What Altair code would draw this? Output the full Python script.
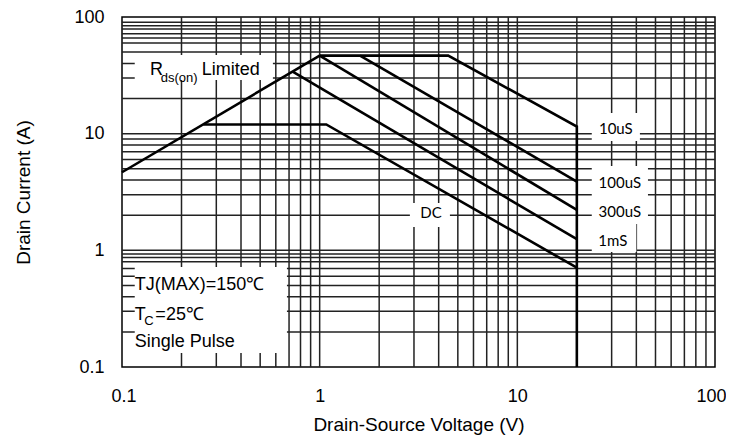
import altair as alt
import pandas as pd

# ---------------- data ----------------
x_ticks = [0.1, 1, 10, 100]
y_ticks = [0.1, 1, 10, 100]
x_grid = [0.2, 0.3, 0.4, 0.5, 0.6, 0.7, 0.8, 0.9, 1,
          2, 3, 4, 5, 6, 7, 8, 9, 10,
          20, 30, 40, 50, 60, 70, 80, 90]
y_grid = [0.2, 0.3, 0.4, 0.5, 0.6, 0.7, 0.8, 0.87, 0.93, 1,
          2, 3, 4, 5, 6, 7, 8, 9, 10,
          20, 30, 40, 50, 60, 66, 72, 79, 84, 90]

# SOA curves (V, A)
rds_v = [0.1, 1.0]
rds_i = [4.67, 46.7]
t10_v = [1.0, 4.47, 20, 20]
t10_i = [46.7, 46.7, 11.5, 0.1]
t100_v = [1.6, 20]
t100_i = [46.7, 3.88]
t300_v = [1.0, 20]
t300_i = [46.7, 2.22]
t1m_v = [0.73, 20]
t1m_i = [34.0, 1.245]
dc_v = [0.258, 1.08, 20]
dc_i = [12.0, 12.0, 0.71]

series = {"Rds": (rds_v, rds_i), "10uS": (t10_v, t10_i), "100uS": (t100_v, t100_i),
          "300uS": (t300_v, t300_i), "1mS": (t1m_v, t1m_i), "DC": (dc_v, dc_i)}

rows = []
for name, (vs, cs) in series.items():
    for k, (v, c) in enumerate(zip(vs, cs)):
        rows.append({"v": v, "i": c, "s": name, "k": k})
curves = pd.DataFrame(rows)

# annotation label boxes (data coords)
boxes = pd.DataFrame({
    "x1": [0.116, 0.116, 23.8, 23.8, 23.8, 2.86],
    "x2": [0.58, 0.683, 41.7, 45.8, 40.0, 4.56],
    "y1": [47.2, 0.721, 15.0, 5.29, 1.684, 2.55],
    "y2": [28.8, 0.132, 8.66, 1.684, 0.97, 1.587],
})

big_text = pd.DataFrame({
    "x": [0.1386, 0.253, 0.116, 0.116, 0.1475, 0.116],
    "y": [31.8, 31.8, 0.458, 0.2535, 0.2535, 0.1496],
    "t": ["R", "Limited", "TJ(MAX)=150\u2103", "T", "=25\u2103", "Single Pulse"],
})
sub_text = pd.DataFrame({
    "x": [0.157, 0.1297],
    "y": [27.9, 0.2297],
    "t": ["ds(on)", "C"],
})
dur_text = pd.DataFrame({
    "x": [31.5, 33.0, 33.0, 30.4, 3.66],
    "y": [9.94, 3.43, 1.93, 1.09, 1.895],
    "t": ["10uS", "100uS", "300uS", "1mS", "DC"],
})

xg = pd.DataFrame({"v": x_grid})
yg = pd.DataFrame({"i": y_grid})

# ---------------- chart ----------------
FONT = "Liberation Sans"
xscale = alt.Scale(type="log", domain=[0.1, 100], nice=False)
yscale = alt.Scale(type="log", domain=[0.1, 100], nice=False)
xaxis = alt.Axis(values=x_ticks, format="~g", title="Drain-Source Voltage (V)",
                 grid=False, ticks=False, tickSize=0, domain=False,
                 labelPadding=20, titlePadding=10, labelFlush=True, labelFlushOffset=11)
yaxis = alt.Axis(values=y_ticks, format="~g", title="Drain Current (A)",
                 grid=False, ticks=False, tickSize=0, domain=False,
                 labelPadding=18, titlePadding=40, labelFlush=False)

GRID = "#222222"

vgrid = alt.Chart(xg).mark_rule(color=GRID, strokeWidth=1.5).encode(
    x=alt.X("v:Q", scale=xscale, axis=xaxis))
hgrid = alt.Chart(yg).mark_rule(color=GRID, strokeWidth=1.5).encode(
    y=alt.Y("i:Q", scale=yscale, axis=yaxis))

rects = alt.Chart(boxes).mark_rect(color="white").encode(
    x=alt.X("x1:Q", scale=xscale, axis=xaxis), x2="x2:Q",
    y=alt.Y("y1:Q", scale=yscale, axis=yaxis), y2="y2:Q")

lines = alt.Chart(curves).mark_line(color="black", strokeWidth=2.6, strokeJoin="miter").encode(
    x=alt.X("v:Q", scale=xscale, axis=xaxis),
    y=alt.Y("i:Q", scale=yscale, axis=yaxis),
    detail="s:N", order="k:Q")

t_big = alt.Chart(big_text).mark_text(font=FONT, fontSize=18, align="left",
                                      baseline="alphabetic", color="black").encode(
    x=alt.X("x:Q", scale=xscale, axis=xaxis), y=alt.Y("y:Q", scale=yscale, axis=yaxis), text="t:N")
t_sub = alt.Chart(sub_text).mark_text(font=FONT, fontSize=13, align="left",
                                      baseline="alphabetic", color="black").encode(
    x=alt.X("x:Q", scale=xscale, axis=xaxis), y=alt.Y("y:Q", scale=yscale, axis=yaxis), text="t:N")
t_dur = alt.Chart(dur_text).mark_text(font="Lato", fontSize=15, align="center",
                                      baseline="alphabetic", color="black").encode(
    x=alt.X("x:Q", scale=xscale, axis=xaxis), y=alt.Y("y:Q", scale=yscale, axis=yaxis), text="t:N")

chart = alt.layer(vgrid, hgrid, rects, lines, t_big, t_sub, t_dur).properties(
    width=593, height=350,
    autosize=alt.AutoSizeParams(type="none"),
    padding={"left": 114, "top": 9, "right": 11, "bottom": 70},
).configure_view(stroke="black", strokeWidth=1.5).configure_axis(
    labelFont=FONT, labelFontSize=18, labelColor="black",
    titleFont=FONT, titleFontSize=19, titleFontWeight="normal", titleColor="black",
)

chart.save("out.html", embed_options={"renderer": "svg", "actions": False})
